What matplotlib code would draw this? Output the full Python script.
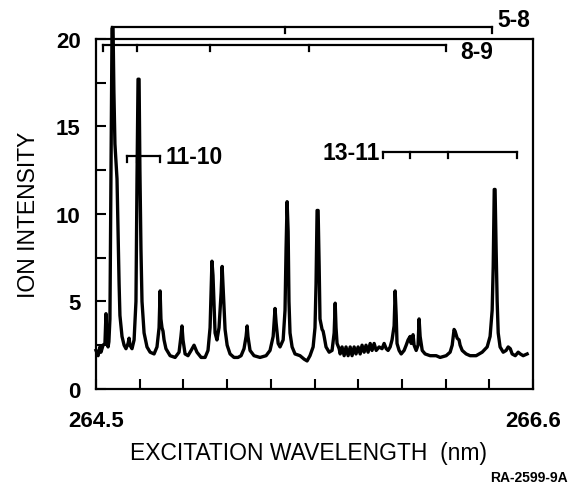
import matplotlib.pyplot as plt

plt.rcParams['font.family'] = ['Liberation Sans', 'DejaVu Sans']

# spectrum (nm, ion intensity)
wavelength = [
    264.500, 264.510, 264.519, 264.524, 264.534, 264.543, 264.548, 264.553, 264.558, 264.562,
    264.567, 264.572, 264.577, 264.582, 264.586, 264.591, 264.601, 264.606, 264.611, 264.615,
    264.625, 264.635, 264.644, 264.654, 264.659, 264.663, 264.673, 264.683, 264.692, 264.697,
    264.702, 264.707, 264.711, 264.716, 264.721, 264.731, 264.745, 264.760, 264.779, 264.793,
    264.803, 264.808, 264.812, 264.817, 264.822, 264.827, 264.836, 264.856, 264.880, 264.899,
    264.908, 264.913, 264.918, 264.928, 264.942, 264.957, 264.971, 264.985, 265.005, 265.024,
    265.038, 265.048, 265.057, 265.062, 265.072, 265.081, 265.091, 265.101, 265.106, 265.110,
    265.120, 265.130, 265.144, 265.163, 265.182, 265.197, 265.211, 265.221, 265.226, 265.230,
    265.240, 265.259, 265.288, 265.317, 265.336, 265.351, 265.360, 265.365, 265.375, 265.384,
    265.399, 265.408, 265.413, 265.418, 265.423, 265.427, 265.432, 265.442, 265.456, 265.480,
    265.500, 265.514, 265.528, 265.543, 265.552, 265.557, 265.562, 265.567, 265.572, 265.576,
    265.586, 265.591, 265.596, 265.605, 265.620, 265.634, 265.644, 265.649, 265.653, 265.658,
    265.668, 265.673, 265.682, 265.692, 265.701, 265.711, 265.721, 265.730, 265.740, 265.749,
    265.759, 265.769, 265.778, 265.788, 265.797, 265.807, 265.817, 265.826, 265.836, 265.846,
    265.860, 265.874, 265.884, 265.894, 265.903, 265.913, 265.922, 265.932, 265.937, 265.942,
    265.946, 265.956, 265.966, 265.980, 265.990, 265.999, 266.009, 266.014, 266.023, 266.028,
    266.038, 266.047, 266.052, 266.057, 266.067, 266.081, 266.105, 266.134, 266.153, 266.182,
    266.201, 266.211, 266.220, 266.225, 266.235, 266.244, 266.249, 266.259, 266.278, 266.297,
    266.326, 266.355, 266.379, 266.393, 266.403, 266.408, 266.413, 266.417, 266.422, 266.427,
    266.432, 266.441, 266.456, 266.470, 266.480, 266.490, 266.499, 266.514, 266.528, 266.538,
    266.552, 266.571,
]
intensity = [
    2.2, 1.9, 2.4, 2.1, 2.5, 2.6, 4.3, 2.7, 2.4, 2.7,
    4.0, 12.0, 20.6, 20.6, 17.0, 14.0, 12.0, 9.0, 6.0, 4.2,
    3.0, 2.5, 2.3, 2.6, 2.9, 2.5, 2.3, 2.8, 5.0, 12.0,
    17.7, 17.7, 12.5, 8.0, 5.0, 3.2, 2.4, 2.1, 2.0, 2.4,
    3.5, 5.6, 4.0, 3.5, 3.3, 2.8, 2.3, 1.9, 1.8, 2.1,
    3.0, 3.6, 2.8, 2.0, 1.9, 2.2, 2.5, 2.1, 1.8, 1.8,
    2.2, 3.5, 7.3, 6.5, 3.2, 2.8, 3.5, 5.5, 7.0, 6.0,
    3.4, 2.5, 2.0, 1.8, 1.8, 1.9, 2.3, 3.0, 3.6, 3.0,
    2.2, 1.9, 1.8, 1.9, 2.2, 3.0, 4.6, 3.8, 2.6, 2.4,
    2.8, 4.5, 8.0, 10.7, 9.0, 5.0, 3.2, 2.4, 2.0, 1.9,
    1.7, 1.6, 1.9, 2.4, 3.5, 6.0, 10.2, 10.2, 7.0, 4.0,
    3.4, 3.3, 3.0, 2.4, 2.1, 2.2, 3.2, 4.9, 3.5, 2.6,
    2.3, 2.0, 2.4, 1.9, 2.4, 1.9, 2.4, 1.9, 2.4, 2.0,
    2.4, 2.0, 2.5, 2.1, 2.5, 2.1, 2.6, 2.2, 2.6, 2.2,
    2.4, 2.3, 2.6, 2.3, 2.2, 2.4, 2.8, 3.6, 5.6, 4.2,
    2.6, 2.2, 2.0, 2.2, 2.5, 2.8, 3.0, 2.6, 3.1, 2.5,
    2.2, 2.5, 4.0, 3.0, 2.2, 2.0, 1.9, 1.9, 1.8, 1.9,
    2.1, 2.5, 3.4, 3.3, 2.9, 2.8, 2.5, 2.2, 2.0, 1.9,
    1.9, 2.1, 2.4, 3.0, 4.5, 7.0, 11.4, 11.4, 8.0, 5.0,
    3.2, 2.4, 2.1, 2.2, 2.4, 2.3, 2.0, 1.9, 2.1, 2.0,
    1.9, 2.0,
]

x_ticks = [264.5, 264.71, 264.92, 265.13, 265.34, 265.55, 265.76, 265.97, 266.18, 266.39, 266.6]
x_tick_labels = ['264.5', '', '', '', '', '', '', '', '', '', '266.6']
y_ticks = [0, 2.5, 5, 7.5, 10, 12.5, 15, 17.5, 20]
y_tick_labels = ['0', '', '5', '', '10', '', '15', '', '20']

# vibrational band brackets: label, level, bracket tick positions (ends included)
band_labels = ['5-8', '8-9', '11-10', '13-11']
band_levels = [20.7, 19.65, 13.31, 13.54]
band_ticks = [
    [264.577, 265.408, 266.403],
    [264.534, 264.697, 265.048, 265.524, 266.182],
    [264.649, 264.697, 264.808],
    [265.879, 266.009, 266.191, 266.523],
]

fig = plt.figure(figsize=(5.7, 4.85), dpi=100)
ax = fig.add_axes([0.1684, 0.196, 0.767, 0.7216])

ax.plot(wavelength, intensity, color='black', lw=2.4, clip_on=False,
        solid_joinstyle='round')

drop = 0.35
for lab, lev, ticks in zip(band_labels, band_levels, band_ticks):
    ax.plot([ticks[0], ticks[-1]], [lev, lev], color='black', lw=1.6, clip_on=False)
    for t in ticks:
        ax.plot([t, t], [lev, lev - drop], color='black', lw=1.6, clip_on=False)

txt = dict(fontsize=16.5, fontweight='bold', va='center')
ax.text(266.426, 21.09, '5-8', ha='left', **txt)
ax.text(266.249, 19.31, '8-9', ha='left', **txt)
ax.text(264.836, 13.31, '11-10', ha='left', **txt)
ax.text(265.865, 13.49, '13-11', ha='right', **txt)

ax.set_xlim(264.5, 266.6)
ax.set_ylim(0, 20)
ax.set_xticks(x_ticks)
ax.set_xticklabels(x_tick_labels)
ax.set_yticks(y_ticks)
ax.set_yticklabels(y_tick_labels)
ax.tick_params(direction='in', length=7, width=1.5, labelsize=16)
ax.tick_params(axis='x', pad=15)
ax.tick_params(axis='y', pad=11)
for lbl in ax.get_xticklabels() + ax.get_yticklabels():
    lbl.set_fontweight('bold')

for sp in ax.spines.values():
    sp.set_linewidth(1.6)

ax.set_xlabel('EXCITATION WAVELENGTH  (nm)', fontsize=16.5, va='top')
ax.xaxis.set_label_coords(0.485, -0.15)
ax.set_ylabel('ION INTENSITY', fontsize=16.5, va='bottom')
ax.yaxis.set_label_coords(-0.128, 0.5)

fig.text(0.996, 0.014, 'RA-2599-9A', fontsize=10, fontweight='bold',
         ha='right', va='center')

fig.savefig('out.png', dpi=100)
